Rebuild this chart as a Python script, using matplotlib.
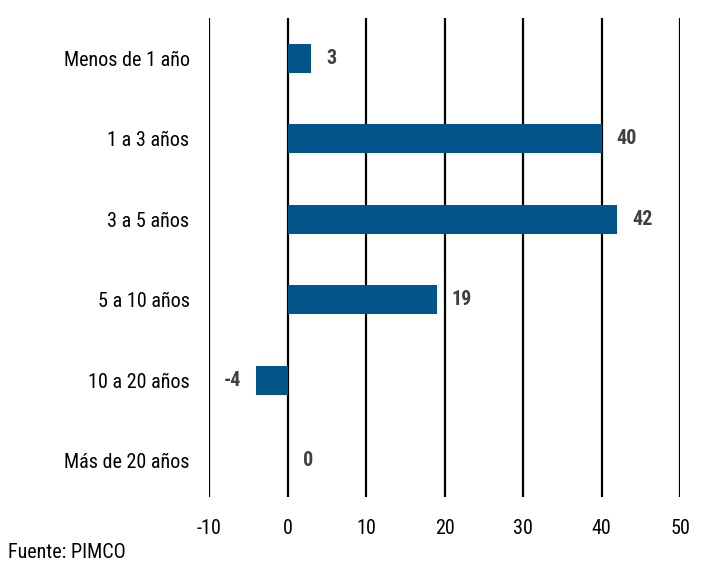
import matplotlib.pyplot as plt

categories = ["Menos de 1 año", "1 a 3 años", "3 a 5 años", "5 a 10 años", "10 a 20 años", "Más de 20 años"]
values = [3, 40, 42, 19, -4, 0]
xticks = [-10, 0, 10, 20, 30, 40, 50]

plt.rcParams['font.family'] = ['Roboto Condensed', 'Archivo Narrow', 'Liberation Sans', 'DejaVu Sans']
FS = 14.5

fig = plt.figure(figsize=(7.07, 5.65), dpi=100)
ax = fig.add_axes([209/707, 1 - 497/565, (680-209)/707, (497-18)/565])

ypos = list(range(len(categories)))
ax.barh(ypos, values, height=0.36, color='#02558B', zorder=3)
for x in xticks:
    ax.axvline(x, color='black', lw=1.6, zorder=2)
ax.set_xlim(-10, 50)
ax.set_ylim(5.45, -0.5)
for s in ax.spines.values():
    s.set_visible(False)
ax.set_xticks(xticks)
ax.set_xticklabels([str(t) for t in xticks], fontsize=FS)
ax.tick_params(axis='x', length=0, pad=16)
ax.set_yticks(ypos)
ax.set_yticklabels(categories, fontsize=FS)
ax.tick_params(axis='y', length=0, pad=14)

for y, v in zip(ypos, values):
    if v < 0:
        ax.annotate(str(v), (v, y), xytext=(-11, 0), textcoords='offset points',
                    ha='right', va='center', fontsize=FS, fontweight='bold', color='#404040')
    else:
        ax.annotate(str(v), (v, y), xytext=(11, 0), textcoords='offset points',
                    ha='left', va='center', fontsize=FS, fontweight='bold', color='#404040')

fig.text(8/707, 1 - 552/565, "Fuente: PIMCO", fontsize=FS, va='center', ha='left')
fig.savefig('out.png', dpi=100)
